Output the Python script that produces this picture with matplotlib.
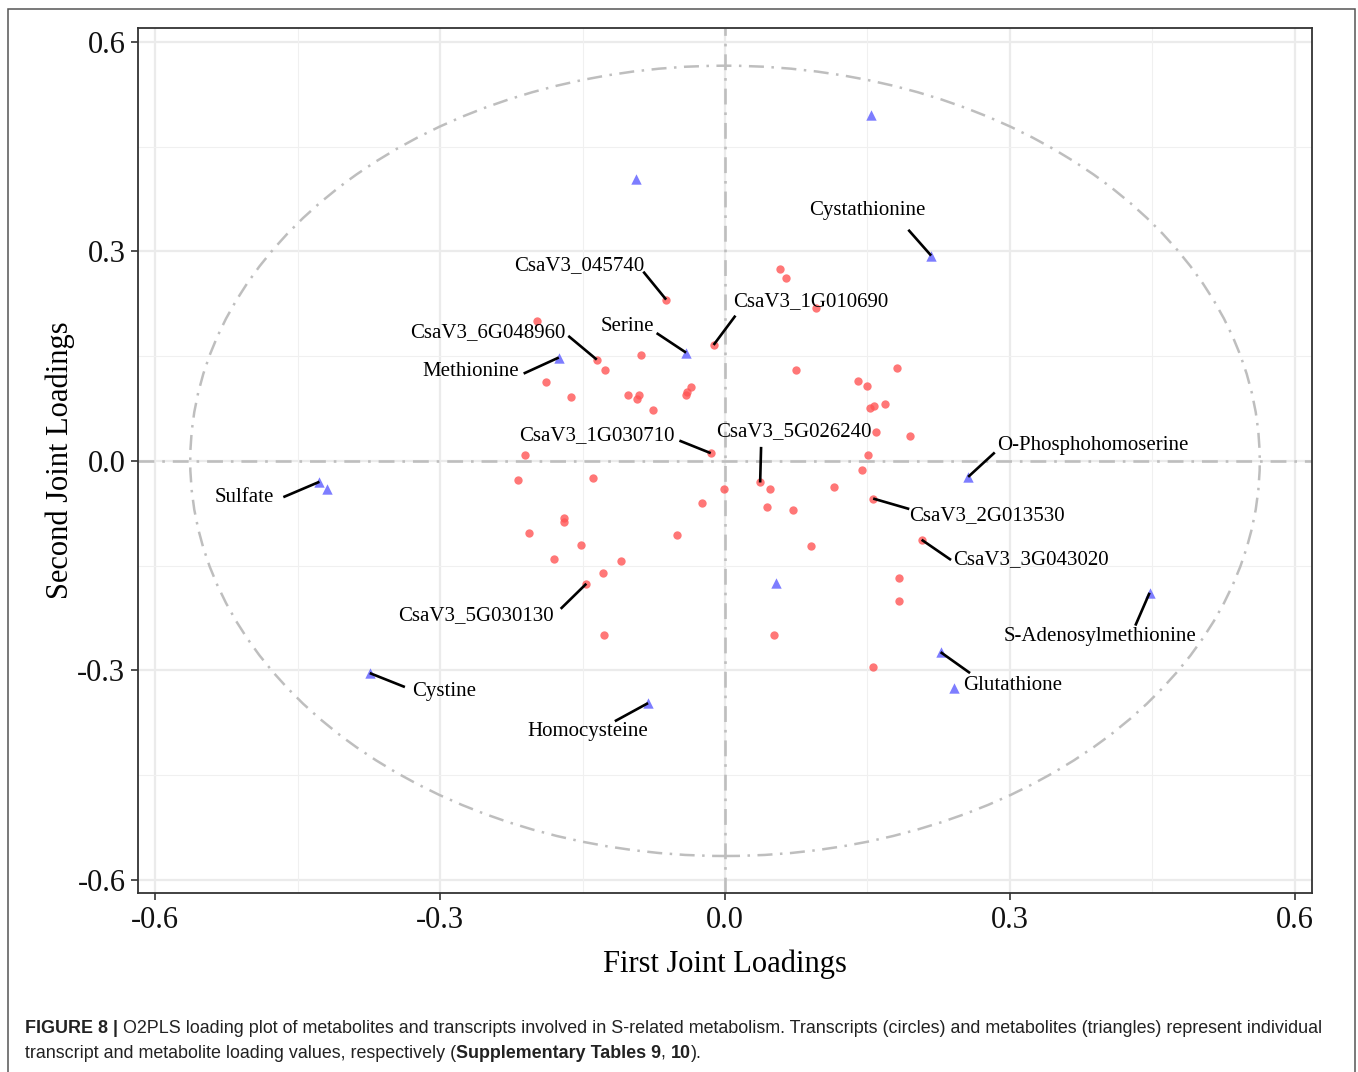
import matplotlib
matplotlib.use("Agg")
import matplotlib.pyplot as plt
from matplotlib.patches import Ellipse, Rectangle

# transcript loadings (circles)
gene_x = [0.058, 0.064, 0.096, -0.198, -0.012, -0.062, -0.135, -0.088, -0.126, -0.188,
          0.075, 0.140, 0.150, 0.181, -0.162, -0.102, -0.091, -0.093, -0.076, -0.036,
          -0.040, -0.041, 0.153, 0.157, 0.168, 0.159, 0.195, -0.015, -0.211, 0.151,
          -0.218, -0.139, 0.144, 0.037, 0.047, -0.001, 0.115, -0.024, 0.044, 0.072,
          0.156, -0.170, -0.169, -0.206, -0.152, -0.180, -0.109, -0.128, -0.146, -0.127,
          -0.051, 0.091, 0.207, 0.183, 0.183, 0.156, 0.052]
gene_y = [0.275, 0.262, 0.219, 0.201, 0.166, 0.231, 0.145, 0.151, 0.130, 0.113,
          0.130, 0.114, 0.107, 0.133, 0.091, 0.095, 0.095, 0.089, 0.073, 0.106,
          0.098, 0.095, 0.076, 0.078, 0.081, 0.041, 0.036, 0.011, 0.008, 0.008,
          -0.028, -0.025, -0.013, -0.031, -0.040, -0.041, -0.038, -0.061, -0.066, -0.070,
          -0.054, -0.082, -0.088, -0.103, -0.121, -0.140, -0.143, -0.161, -0.176, -0.249,
          -0.106, -0.122, -0.113, -0.168, -0.201, -0.295, -0.249]

# metabolite loadings (triangles)
metab_x = [0.154, -0.094, 0.217, -0.041, -0.175, -0.427, -0.419, 0.256, 0.054,
           0.447, 0.227, 0.241, -0.374, -0.081]
metab_y = [0.496, 0.404, 0.294, 0.155, 0.148, -0.030, -0.040, -0.023, -0.175,
           -0.189, -0.274, -0.325, -0.304, -0.347]

# labelled features: (name, series, index into that series)
labelled = [
    ("Cystathionine", "m", 2),
    ("Serine", "m", 3),
    ("Methionine", "m", 4),
    ("Sulfate", "m", 5),
    ("O-Phosphohomoserine", "m", 7),
    ("S-Adenosylmethionine", "m", 9),
    ("Glutathione", "m", 10),
    ("Cystine", "m", 12),
    ("Homocysteine", "m", 13),
    ("CsaV3_045740", "g", 5),
    ("CsaV3_1G010690", "g", 4),
    ("CsaV3_6G048960", "g", 6),
    ("CsaV3_1G030710", "g", 27),
    ("CsaV3_5G026240", "g", 33),
    ("CsaV3_2G013530", "g", 40),
    ("CsaV3_3G043020", "g", 52),
    ("CsaV3_5G030130", "g", 48),
]

# label text centre and the end of its leader segment
label_pos = {
    "Cystathionine": ((0.150, 0.358), (0.193, 0.331)),
    "Serine": ((-0.103, 0.192), (-0.072, 0.183)),
    "Methionine": ((-0.268, 0.128), (-0.212, 0.125)),
    "Sulfate": ((-0.506, -0.053), (-0.465, -0.052)),
    "O-Phosphohomoserine": ((0.387, 0.022), (0.284, 0.012)),
    "S-Adenosylmethionine": ((0.395, -0.252), (0.432, -0.236)),
    "Glutathione": ((0.303, -0.322), (0.258, -0.304)),
    "Cystine": ((-0.296, -0.331), (-0.337, -0.324)),
    "Homocysteine": ((-0.144, -0.388), (-0.116, -0.373)),
    "CsaV3_045740": ((-0.153, 0.279), (-0.086, 0.271)),
    "CsaV3_1G010690": ((0.090, 0.228), (0.011, 0.208)),
    "CsaV3_6G048960": ((-0.250, 0.183), (-0.165, 0.179)),
    "CsaV3_1G030710": ((-0.135, 0.036), (-0.048, 0.029)),
    "CsaV3_5G026240": ((0.072, 0.042), (0.038, 0.020)),
    "CsaV3_2G013530": ((0.276, -0.079), (0.194, -0.069)),
    "CsaV3_3G043020": ((0.322, -0.142), (0.238, -0.142)),
    "CsaV3_5G030130": ((-0.262, -0.222), (-0.173, -0.212)),
}

ticks = [-0.6, -0.3, 0.0, 0.3, 0.6]
tick_labels = ["-0.6", "-0.3", "0.0", "0.3", "0.6"]
minor = [-0.45, -0.15, 0.15, 0.45]

serif = "Liberation Serif"
sans = "Liberation Sans"

fig = plt.figure(figsize=(13.58, 10.72), dpi=100)
ax = fig.add_axes([138 / 1358, 1 - 893 / 1072, (1312 - 138) / 1358, (893 - 28) / 1072])

ax.set_xlim(-0.618, 0.618)
ax.set_ylim(-0.619, 0.620)

# theme_bw style grid
for v in ticks:
    ax.axvline(v, color="#EBEBEB", lw=1.6, zorder=0)
    ax.axhline(v, color="#EBEBEB", lw=1.6, zorder=0)
for v in minor:
    ax.axvline(v, color="#F0F0F0", lw=0.8, zorder=0)
    ax.axhline(v, color="#F0F0F0", lw=0.8, zorder=0)

dashdot = (0, (6, 3, 1, 3))
ax.axhline(0, color="#BEBEBE", lw=1.9, ls=dashdot, zorder=1)
ax.axvline(0, color="#BEBEBE", lw=1.9, ls=dashdot, zorder=1)
ax.add_patch(Ellipse((0, 0), 2 * 0.563, 2 * 0.566, fill=False, ec="#BEBEBE",
                     lw=1.8, ls=dashdot, zorder=1))

ax.scatter(gene_x, gene_y, s=36, color="#FF5555", alpha=0.8, lw=0, zorder=3)
ax.scatter(metab_x, metab_y, s=56, marker="^", color="#6F6FFF", alpha=0.9, lw=0, zorder=3)

for name, series, i in labelled:
    px, py = (metab_x[i], metab_y[i]) if series == "m" else (gene_x[i], gene_y[i])
    (tx, ty), (ex, ey) = label_pos[name]
    ax.plot([px, ex], [py, ey], color="black", lw=1.9, solid_capstyle="butt", zorder=4)
    ax.text(tx, ty, name, ha="center", va="center", fontsize=15, family=serif,
            color="black", zorder=5)

ax.set_xticks(ticks)
ax.set_xticklabels(tick_labels)
ax.set_yticks(ticks)
ax.set_yticklabels(tick_labels)
ax.tick_params(length=5, width=1.2, color="#333333", labelsize=22, pad=4)
for lab in ax.get_xticklabels() + ax.get_yticklabels():
    lab.set_family(serif)
    lab.set_color("#111111")
for sp in ax.spines.values():
    sp.set_color("#333333")
    sp.set_linewidth(1.3)

ax.set_xlabel("First Joint Loadings", fontsize=22, family=serif, labelpad=11)
ax.set_ylabel("Second Joint Loadings", fontsize=22, family=serif, labelpad=2)

# frame around the whole figure panel
fig.add_artist(Rectangle((8 / 1358, -0.05), (1355 - 8) / 1358, 1.05 - 9 / 1072,
                         transform=fig.transFigure, fill=False, ec="#555555", lw=1.1))

# caption with mixed bold / regular runs
fig.canvas.draw()
renderer = fig.canvas.get_renderer()


def caption_line(y, runs, x=25 / 1358):
    for s, weight in runs:
        t = fig.text(x, y, s, fontsize=12.9, family=sans, fontweight=weight,
                     color="#222222", va="baseline")
        x += t.get_window_extent(renderer).width / fig.bbox.width


caption_line(1 - 1033 / 1072, [
    ("FIGURE 8 |", "bold"),
    (" O2PLS loading plot of metabolites and transcripts involved in S-related metabolism. "
     "Transcripts (circles) and metabolites (triangles) represent individual", "normal"),
])
caption_line(1 - 1058 / 1072, [
    ("transcript and metabolite loading values, respectively (", "normal"),
    ("Supplementary Tables 9", "bold"),
    (", ", "normal"),
    ("10", "bold"),
    (").", "normal"),
])

fig.savefig("out.png", dpi=100)
